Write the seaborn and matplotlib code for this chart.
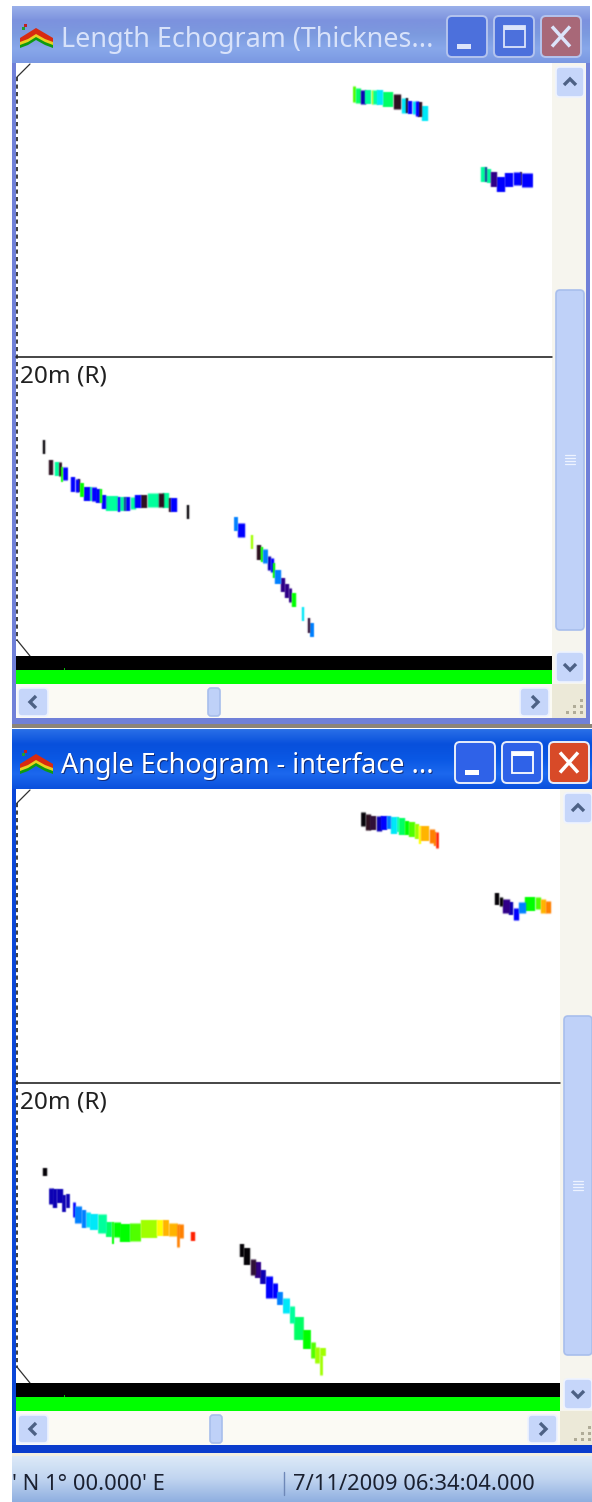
# plot.py - two echogram windows (length and angle) with their window frames
import numpy as np
import pandas as pd
import matplotlib
matplotlib.use("Agg")
import matplotlib.pyplot as plt
from matplotlib.colors import LinearSegmentedColormap
from matplotlib.patches import FancyBboxPatch, Polygon, Rectangle
import seaborn as sns

W, H, DPI = 592, 1502, 100

# colour classes of the echoes
class_colors = {
    "black": "#050308", "dark": "#2E1020", "plum": "#301038", "indigo": "#300088",
    "navy": "#0C00B4", "blue": "#0000FF", "azure": "#0080FF", "cyan": "#00E8F8",
    "teal": "#004C90", "spring": "#00FF9C", "sgreen": "#00FF64", "green": "#00FF00",
    "lime": "#50FF00", "ygreen": "#A0FF00", "yellow": "#FFFF00", "amber": "#FFB400",
    "orange": "#FF8000", "red": "#FF2000",
}

# length echogram, one entry per echo block: left, right, top, bottom, class
len_left = [352.5, 355, 360, 365, 371, 372, 377, 383, 393, 401, 406, 408, 412, 415, 418, 422,
            481, 485, 487, 491, 497, 505, 513, 520, 521.5,
            42.5, 48.5, 54.5, 58.5, 61, 62.5, 71, 75, 78, 80, 83.5, 89.5, 91.5, 96, 100, 102, 106,
            118, 120, 124, 126, 130, 135, 141, 147, 158, 163, 169, 171, 187,
            234, 237.5, 250.5, 256.5, 260.5, 262.5, 267, 270, 273, 275, 281, 285, 289, 291.7,
            301.5, 307.7, 309.7]
len_right = [355, 360, 365, 371, 372, 377, 383, 393, 400, 406, 408, 412, 415, 418, 422, 428,
             485, 487, 491, 497, 505, 513, 520, 521.5, 532,
             44.5, 52.5, 58.5, 61, 62.5, 67, 75, 78, 80, 83.5, 89.5, 91.5, 96, 100, 102, 106, 118,
             120, 124, 126, 130, 135, 141, 147, 158, 163, 169, 171, 177, 189,
             237.5, 244.5, 252.5, 260.5, 262.5, 267, 270, 273, 275, 281, 285, 289, 291.7, 295.7,
             303.5, 309.7, 313.3]
len_top = [86, 88, 90, 90, 90, 90, 90, 92, 94, 98, 98, 101, 101, 101, 102, 106,
           167, 167, 169, 172, 177, 173, 172, 172, 173,
           439.5, 460, 462, 462, 467, 467, 477, 479, 479, 483, 487, 487, 487, 489, 489, 495, 496,
           497, 497, 497, 497, 497, 495, 495, 493, 493, 493, 498, 498, 505,
           517, 523, 535, 545, 547, 549, 556, 558, 563, 570, 578, 584, 588, 593,
           607, 618, 623]
len_bottom = [102, 103, 104, 104, 104, 104, 105, 107, 109, 113, 113, 114, 114, 116, 117, 121,
              182, 182, 183, 187, 192, 187, 185, 185, 187,
              454, 474.5, 476, 476, 482, 480, 492, 492, 492, 497, 501, 501, 501, 503, 503, 509, 511,
              512, 511, 511, 511, 509, 508, 508, 507, 507, 508, 512, 512, 519,
              531, 537, 549, 560, 562, 563, 570, 572, 578, 584, 592, 598, 602, 607,
              621, 633, 637]
len_class = ["lime", "sgreen", "navy", "spring", "ygreen", "spring", "cyan", "sgreen", "dark",
             "cyan", "dark", "blue", "cyan", "blue", "dark", "cyan",
             "spring", "teal", "spring", "indigo", "blue", "blue", "blue", "dark", "blue",
             "black", "dark", "spring", "dark", "green", "blue", "blue", "blue", "dark", "green",
             "blue", "spring", "blue", "blue", "green", "blue", "spring",
             "blue", "spring", "teal", "blue", "spring", "blue", "dark", "spring", "dark",
             "spring", "dark", "blue", "black",
             "azure", "blue", "ygreen", "dark", "green", "azure", "navy", "blue", "green", "azure",
             "indigo", "indigo", "indigo", "green",
             "cyan", "plum", "azure"]

# angle echogram, same columns
ang_left = [360.7, 365, 370, 376, 381, 387, 391, 397, 399, 405, 409, 415, 419, 421, 429, 434, 436,
            495, 499, 502, 509, 513, 518, 525, 535, 540, 545,
            42.7, 48.3, 52.7, 56.7, 62.7, 66, 72.7, 75, 81.7, 85.7, 90, 97.7, 106, 111.7, 113.3,
            120, 130, 140.7, 156.7, 162.7, 168.3, 176.7, 179, 191.3,
            240, 244, 250, 255, 260.7, 266, 272.7, 277.3, 282.7, 289.3, 294, 303.3, 310.7, 315,
            319.3, 320.7]
ang_right = [365, 370, 376, 381, 387, 391, 397, 399, 405, 409, 415, 419, 421, 429, 434, 436, 438.3,
             499, 502, 509, 513, 518, 525, 535, 540, 545, 550,
             46.7, 52.7, 56.7, 62.7, 66, 69.3, 75, 81.7, 85.7, 90, 97.7, 106, 111.7, 113.3, 120,
             130, 140.7, 156.7, 162.7, 168.3, 176.7, 179, 183.3, 195.3,
             244, 250, 255, 260.7, 266, 272.7, 277.3, 282.7, 289.3, 294, 303.3, 310.7, 315, 319.3,
             321.7, 326]
ang_top = [812, 814, 816, 816, 816, 816, 817, 817, 818, 821, 822, 824, 826, 826, 829, 832, 832,
           893, 897, 899, 902, 908, 902, 897, 897, 899, 901,
           1167.7, 1188, 1189, 1189, 1195, 1194, 1202, 1206, 1210, 1212, 1214, 1214, 1222, 1222,
           1222, 1224, 1223, 1220, 1220, 1220, 1223, 1224, 1224, 1232,
           1244, 1248, 1259, 1262, 1270, 1276, 1283, 1292, 1298, 1306, 1317, 1330, 1342, 1347,
           1355, 1348]
ang_bottom = [826, 830, 830, 831, 830, 829, 834, 832, 835, 835, 837, 839, 844, 841, 843, 846, 848,
              905, 906, 913, 915, 919.5, 913, 911, 909, 913, 913,
              1175.7, 1204, 1208, 1203, 1212, 1208, 1217, 1223, 1228, 1227, 1230, 1233, 1237, 1244,
              1237, 1242, 1241, 1238, 1236, 1236, 1236, 1247, 1238, 1241,
              1257, 1265, 1275, 1278, 1284, 1298, 1298, 1305, 1313, 1323, 1340, 1349, 1358, 1363,
              1375, 1356]
ang_class = ["black", "dark", "plum", "navy", "blue", "azure", "cyan", "spring", "sgreen", "green",
             "lime", "ygreen", "yellow", "amber", "orange", "orange", "red",
             "black", "black", "indigo", "navy", "blue", "azure", "green", "lime", "amber", "orange",
             "black", "navy", "navy", "navy", "navy", "navy", "blue", "azure", "azure", "cyan",
             "cyan", "spring", "sgreen", "green", "green", "green", "lime", "ygreen", "yellow",
             "amber", "amber", "orange", "orange", "red",
             "black", "black", "plum", "indigo", "navy", "blue", "blue", "azure", "cyan", "spring",
             "sgreen", "green", "lime", "ygreen", "ygreen", "ygreen"]

title_len = "Length Echogram (Thicknes..."
title_ang = "Angle Echogram - interface ..."
range_label = "20m (R)"
status_pos = "' N 1\u00b0 00.000' E"
status_time = "7/11/2009 06:34:04.000"

sns.set_theme(style="white")
plt.rcParams["font.family"] = ["Noto Sans", "DejaVu Sans"]

fig = plt.figure(figsize=(W / DPI, H / DPI), dpi=DPI, facecolor="white")
ax = fig.add_axes([0, 0, 1, 1])
ax.axis("off")


def rect(x0, y0, x1, y1, color, z=1, **kw):
    ax.add_patch(Rectangle((x0, y0), x1 - x0, y1 - y0, facecolor=color, edgecolor="none", zorder=z, **kw))


def grad(x0, y0, x1, y1, stops, z=1):
    cmap = LinearSegmentedColormap.from_list("g", stops)
    ax.imshow(np.linspace(0, 1, 128)[:, None], cmap=cmap, extent=(x0, x1, y1, y0), aspect="auto", zorder=z)


def button(x0, y0, x1, y1, face, edge, z=3, rad=4, lw=1.2):
    ax.add_patch(FancyBboxPatch((x0 + rad, y0 + rad), x1 - x0 - 2 * rad, y1 - y0 - 2 * rad,
                                boxstyle=f"round,pad={rad}", facecolor=face, edgecolor=edge, linewidth=lw, zorder=z))


def icon(x, y):
    # small mound icon, x and y are the top-left corner
    layers = [("#0E9A10", 0), ("#E8D020", -3), ("#D82A10", -6)]
    for col, dy in layers:
        ax.add_patch(Polygon([(x, y + 20 + dy), (x + 16, y + 10 + dy), (x + 33, y + 20 + dy),
                              (x + 33, y + 24 + dy), (x + 25, y + 21 + dy), (x + 16, y + 16 + dy),
                              (x + 8, y + 21 + dy), (x, y + 24 + dy)], facecolor=col, edgecolor="none", zorder=4))
    rect(x + 4, y, x + 7, y + 3, "#C02020", z=5)
    rect(x + 2, y + 3, x + 5, y + 6, "#20A030", z=5)


def scroll_arrow(cx, cy, kind, color="#4D6185"):
    s = 6
    pts = {"up": [(cx - s, cy + 3), (cx, cy - 3), (cx + s, cy + 3)],
           "down": [(cx - s, cy - 3), (cx, cy + 3), (cx + s, cy - 3)],
           "left": [(cx + 3, cy - s), (cx - 3, cy), (cx + 3, cy + s)],
           "right": [(cx - 3, cy - s), (cx + 3, cy), (cx - 3, cy + s)]}[kind]
    xs, ys = zip(*pts)
    ax.plot(xs, ys, color=color, lw=2.4, zorder=5, solid_capstyle="butt", solid_joinstyle="miter")


def window(top, title_bottom, band_top, sep_y, right, rc, btn_x, frame, title_stops, txt_color, title, active,
           thumb_y, close_col):
    # frame and title bar
    rect(12, top, right, band_top + 70, frame, z=0)
    grad(12, top, right, title_bottom, title_stops)
    col_end = rc + 34
    rect(16, title_bottom, rc, band_top, "white", z=1)
    rect(rc, title_bottom, col_end, band_top + 62, "#F6F5EE", z=1)
    rect(16, band_top + 28, rc, band_top + 62, "#FBFAF4", z=1)
    rect(rc, band_top + 28, col_end, band_top + 62, "#ECE9D8", z=1)

    # range line and label
    ax.plot([16, rc], [sep_y, sep_y], color="#141414", lw=1.1, zorder=2)
    ax.text(20, sep_y + 20, range_label, fontsize=17.5, color="#202020", va="center", ha="left", zorder=6)

    # dashed edge and the two corner ticks
    ax.plot([16.5, 16.5], [title_bottom + 14, band_top - 15], color="#202020", lw=1.2, ls=(0, (2.5, 2)), zorder=2)
    ax.plot([17, 30], [title_bottom + 14, title_bottom + 1], color="#303030", lw=0.9, zorder=2)
    ax.plot([17, 30], [band_top - 16, band_top], color="#303030", lw=0.9, zorder=2)

    # bottom bands
    rect(16, band_top, rc, band_top + 14, "black", z=2)
    rect(16, band_top + 14, rc, band_top + 28, "#00FF00", z=2)
    rect(63.5, band_top + 12, 64.5, band_top + 14, "#00C000", z=3)

    # vertical scroll bar
    bx0, bx1 = rc + 4, rc + 32
    face, edge = "#C6D6FA", "#EEF3FF"
    button(bx0, title_bottom + 4, bx1, title_bottom + 34, face, edge)
    scroll_arrow((bx0 + bx1) / 2, title_bottom + 19, "up")
    button(bx0, band_top - 4, bx1, band_top + 26, face, edge)
    scroll_arrow((bx0 + bx1) / 2, band_top + 11, "down")
    button(bx0, thumb_y[0], bx1, thumb_y[1], "#BFD1F8", "#A8BEEC")
    gy = (thumb_y[0] + thumb_y[1]) / 2
    for dy in (-5, -2, 1, 4):
        ax.plot([bx0 + 9, bx1 - 9], [gy + dy, gy + dy], color="#EEF3FF", lw=0.9, zorder=5)

    # horizontal scroll bar
    hy0, hy1 = band_top + 32, band_top + 60
    button(18, hy0, 48, hy1, face, edge)
    scroll_arrow(33, (hy0 + hy1) / 2, "left")
    button(rc - 32, hy0, rc - 3, hy1, face, edge)
    scroll_arrow(rc - 17, (hy0 + hy1) / 2, "right")
    tx = 208 if not active else 210
    button(tx, hy0, tx + 12, hy1, "#BFD1F8", "#A8BEEC", rad=3)

    # resize grip
    gx = rc + 24
    gy = band_top + 56
    for i, j in [(0, 0), (1, 0), (2, 0), (1, 1), (2, 1), (2, 2)]:
        rect(gx - 7 * (2 - i) + 4, gy - 6 * j - 1, gx - 7 * (2 - i) + 6.5, gy - 6 * j + 1.5, "#B0AC98", z=3)

    # title bar content
    icon(20, title_bottom - 39)
    tcy = title_bottom - 23
    if active:
        ax.text(62, tcy + 1, title, fontsize=19.4, color="#102060", va="center", ha="left", zorder=5, alpha=0.8)
    ax.text(61, tcy, title, fontsize=19.4, color=txt_color, va="center", ha="left", zorder=6)
    by0, by1 = title_bottom - 47, title_bottom - 6
    btn_edge = "#E8EEFA" if active else "#B4C4EE"
    mm = "#2F62E8" if active else "#4C70DC"
    button(btn_x[0], by0, btn_x[0] + 40, by1, mm, btn_edge, lw=1.4, rad=5)
    button(btn_x[1], by0, btn_x[1] + 40, by1, mm, btn_edge, lw=1.4, rad=5)
    button(btn_x[2], by0, btn_x[2] + 40, by1, close_col, btn_edge, lw=1.4, rad=5)
    mark = "white" if active else "#DCE4FA"
    rect(btn_x[0] + 10, by0 + 28, btn_x[0] + 24, by0 + 33, mark, z=5)
    ax.add_patch(Rectangle((btn_x[1] + 10, by0 + 10), 21, 21, facecolor="none", edgecolor=mark, lw=1.3, zorder=5))
    rect(btn_x[1] + 10, by0 + 10, btn_x[1] + 31, by0 + 14, mark, z=5)
    cx, cy = btn_x[2] + 20, (by0 + by1) / 2
    ax.plot([cx - 9, cx + 9], [cy - 10, cy + 10], color=mark, lw=2.5, zorder=5, solid_capstyle="butt")
    ax.plot([cx - 9, cx + 9], [cy + 10, cy - 10], color=mark, lw=2.5, zorder=5, solid_capstyle="butt")


window(6, 63, 656, 357, 590, 552, (447, 494, 541), "#7080D8",
       ["#9AB0EA", "#7C92DE", "#7C9ADF", "#88A8EA", "#7A98E2"], "#D8E2FA", title_len, False, (290, 630), "#A86878")
window(729, 789, 1383, 1083, 592, 560, (455, 502, 549), "#0A46D8",
       ["#2A70E8", "#0850DC", "#0A58E4", "#1C68EE", "#0A50DC"], "white", title_ang, True, (1016, 1355), "#D84A28")

# gap between the windows and the lower frame edge
rect(12, 724, 592, 728, "#8C8478", z=2)
rect(12, 1445, 592, 1453, "#0A3CCC", z=2)
rect(12, 1453, 592, 1456, "#F2EEDF", z=2)

# status bar
grad(12, 1456, 592, 1502, ["#DDEAF8", "#C0D4F0", "#8FAFE0"], z=2)
ax.text(12, 1484, status_pos, fontsize=15.8, color="#1A2030", va="center", ha="left", zorder=6)
ax.plot([284, 284], [1472, 1495], color="#6E88B8", lw=1, zorder=6)
ax.text(293, 1484, status_time, fontsize=15.8, color="#1A2030", va="center", ha="left", zorder=6)


# echoes: every block is one thick vertical line, from top to bottom, its width in the line size
def echo_frame(left, right, top, bottom, cls):
    df = pd.DataFrame({"left": left, "right": right, "top": top, "bottom": bottom, "cls": cls})
    df["id"] = np.arange(len(df))
    df["x"] = (df["left"] + df["right"]) / 2
    df["w"] = (df["right"] - df["left"]).round(2)
    return df.melt(id_vars=["id", "x", "w", "cls"], value_vars=["top", "bottom"], value_name="y").sort_values(["id", "variable"], ascending=[True, False])


# the screenshot is slightly soft, so the echo edges get a small blur
def soften(img, dpi):
    pad = 2
    im = np.pad(img, ((pad, pad), (pad, pad), (0, 0)))
    a = im[..., 3:]
    pre = np.concatenate([im[..., :3] * a, a], axis=2)
    k = np.array([0.2, 0.6, 0.2])
    for axis in (0, 1):
        pre = np.apply_along_axis(lambda v: np.convolve(v, k, mode="same"), axis, pre)
    alpha = pre[..., 3:]
    rgb = np.where(alpha > 0, pre[..., :3] / np.maximum(alpha, 1e-6), 0)
    return np.concatenate([np.clip(rgb, 0, 1), alpha], axis=2), -pad, -pad


echoes = pd.concat([echo_frame(len_left, len_right, len_top, len_bottom, len_class),
                    echo_frame(ang_left, ang_right, ang_top, ang_bottom, ang_class).assign(id=lambda d: d["id"] + 1000)])
sizes = {w: (w + 0.4) * 72 / DPI for w in echoes["w"].unique()}
n_before = len(ax.lines)
sns.lineplot(data=echoes, x="x", y="y", hue="cls", size="w", units="id", estimator=None, sort=False,
             palette=class_colors, sizes=sizes, legend=False, ax=ax, zorder=4, solid_capstyle="butt")
for line in ax.lines[n_before:]:
    line.set_agg_filter(soften)

ax.set_xlim(0, W)
ax.set_ylim(H, 0)
fig.savefig("out.png", dpi=DPI, facecolor="white")
